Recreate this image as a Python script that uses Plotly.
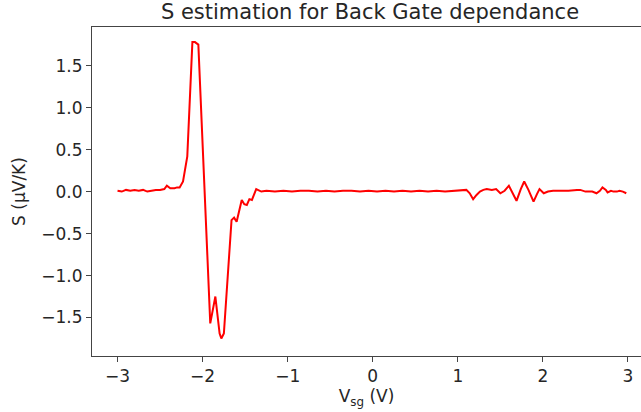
import plotly.graph_objects as go

# Back gate voltage (V)
v_sg = [-3.00, -2.95, -2.90, -2.85, -2.80, -2.75, -2.70, -2.65, -2.60, -2.55,
        -2.50, -2.45, -2.42, -2.38, -2.33, -2.30, -2.27, -2.23, -2.18, -2.12,
        -2.09, -2.05, -1.91, -1.85, -1.80, -1.78, -1.75, -1.66, -1.63, -1.60,
        -1.54, -1.51, -1.48, -1.45, -1.42, -1.37, -1.31, -1.25, -1.15, -1.05,
        -0.95, -0.85, -0.75, -0.65, -0.55, -0.45, -0.35, -0.25, -0.15, -0.05,
        0.05, 0.15, 0.25, 0.35, 0.45, 0.55, 0.65, 0.75, 0.85, 0.95,
        1.05, 1.10, 1.14, 1.18, 1.22, 1.26, 1.30, 1.34, 1.40, 1.45,
        1.50, 1.55, 1.60, 1.65, 1.69, 1.74, 1.78, 1.83, 1.89, 1.93,
        1.96, 2.01, 2.06, 2.12, 2.20, 2.30, 2.40, 2.44, 2.50, 2.58,
        2.63, 2.67, 2.70, 2.74, 2.76, 2.80, 2.83, 2.87, 2.90, 2.94, 2.98]

# Seebeck coefficient estimate (uV/K)
s_val = [0.01, 0.00, 0.02, 0.01, 0.02, 0.01, 0.02, 0.00, 0.01, 0.02,
         0.02, 0.03, 0.07, 0.04, 0.04, 0.05, 0.05, 0.12, 0.42, 1.78,
         1.78, 1.75, -1.57, -1.25, -1.69, -1.75, -1.69, -0.34, -0.31, -0.36,
         -0.10, -0.15, -0.16, -0.09, -0.10, 0.03, 0.00, 0.01, 0.00, 0.01,
         0.00, 0.01, 0.01, 0.00, 0.01, 0.00, 0.01, 0.01, 0.00, 0.01,
         0.00, 0.01, 0.00, 0.01, 0.00, 0.01, 0.00, 0.01, 0.00, 0.01,
         0.02, 0.02, -0.02, -0.09, -0.04, 0.00, 0.02, 0.03, 0.02, 0.03,
         -0.02, 0.01, 0.07, -0.02, -0.11, 0.03, 0.12, 0.02, -0.12, -0.03,
         0.03, -0.02, 0.00, 0.01, 0.01, 0.01, 0.02, 0.02, 0.00, 0.00,
         -0.02, 0.01, 0.05, 0.02, -0.01, 0.01, 0.00, 0.00, 0.01, 0.00, -0.02]

title_text = "S estimation for Back Gate dependance"
x_label = "V<sub>sg</sub> (V)"
y_label = "S (μV/K)"

tick_font = dict(family="DejaVu Sans", size=17, color="#262626")
label_font = dict(family="DejaVu Sans", size=17, color="#262626")

fig = go.Figure()
fig.add_trace(go.Scatter(x=v_sg, y=s_val, mode="lines",
                         line=dict(color="#ff0000", width=2), showlegend=False))

fig.update_layout(
    width=641, height=412,
    margin=dict(l=92, r=0, t=27, b=56),
    paper_bgcolor="white", plot_bgcolor="white",
    font=tick_font,
    title=dict(text=title_text, x=370 / 641, xref="container", xanchor="center",
               y=0.99, yanchor="top",
               font=dict(family="DejaVu Sans", size=21, color="#262626")),
    xaxis=dict(range=[-3.30, 3.153], dtick=1, tick0=0, tickformat="d",
               showgrid=False, zeroline=False, showline=True, mirror=True,
               linecolor="#444", linewidth=1, ticks="outside", ticklen=5,
               tickcolor="#444", tickfont=tick_font,
               title=dict(text=x_label, font=label_font, standoff=2)),
    yaxis=dict(range=[-1.958, 1.96], dtick=0.5, tick0=0, tickformat=".1f",
               showgrid=False, zeroline=False, showline=True, mirror=False,
               linecolor="#444", linewidth=1, ticks="outside", ticklen=5,
               tickcolor="#444", tickfont=tick_font,
               title=dict(text=y_label, font=label_font, standoff=11)),
)

fig.write_html("out.html")
